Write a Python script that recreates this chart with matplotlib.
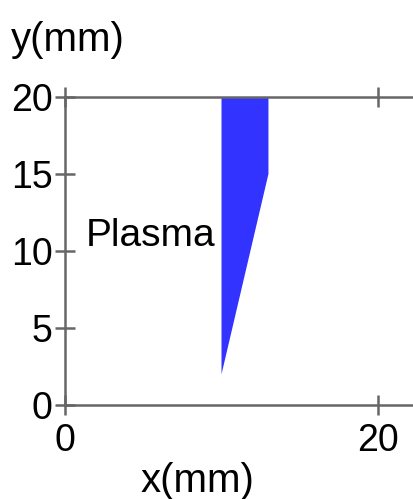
import matplotlib
matplotlib.use("Agg")
import matplotlib.pyplot as plt
from matplotlib.patches import Polygon

# plasma region outline (mm)
plasma_x = [10, 13, 13, 10]
plasma_y = [20, 20, 15, 2]

x_ticks = [0, 20]
y_ticks = [0, 5, 10, 15, 20]

plt.rcParams['font.family'] = ['Liberation Sans', 'DejaVu Sans']

fig = plt.figure(figsize=(4.14, 4.99), dpi=100)
ax = fig.add_axes([0.157, 0.188, 0.843, 0.618])

ax.add_patch(Polygon(list(zip(plasma_x, plasma_y)), closed=True,
                     facecolor='#3333ff', edgecolor='none'))

ax.set_xlim(0, 22.3)
ax.set_ylim(0, 20)

axis_col = '#666666'
for side in ['left', 'bottom', 'top']:
    ax.spines[side].set_color(axis_col)
    ax.spines[side].set_linewidth(1.8)
ax.spines['right'].set_visible(False)

ax.set_xticks(x_ticks)
ax.set_yticks(y_ticks)
ax.tick_params(axis='both', direction='inout', length=14, width=1.8,
               color=axis_col, labelsize=27, pad=2)
ax.tick_params(axis='x', top=True, pad=6)

ax.text(1.3, 11.0, 'Plasma', fontsize=28, va='center', ha='left')

fig.text(0.025, 0.92, 'y(mm)', fontsize=29, ha='left', va='center')
fig.text(0.476, 0.037, 'x(mm)', fontsize=29, ha='center', va='center')

fig.savefig('out.png', dpi=100)
